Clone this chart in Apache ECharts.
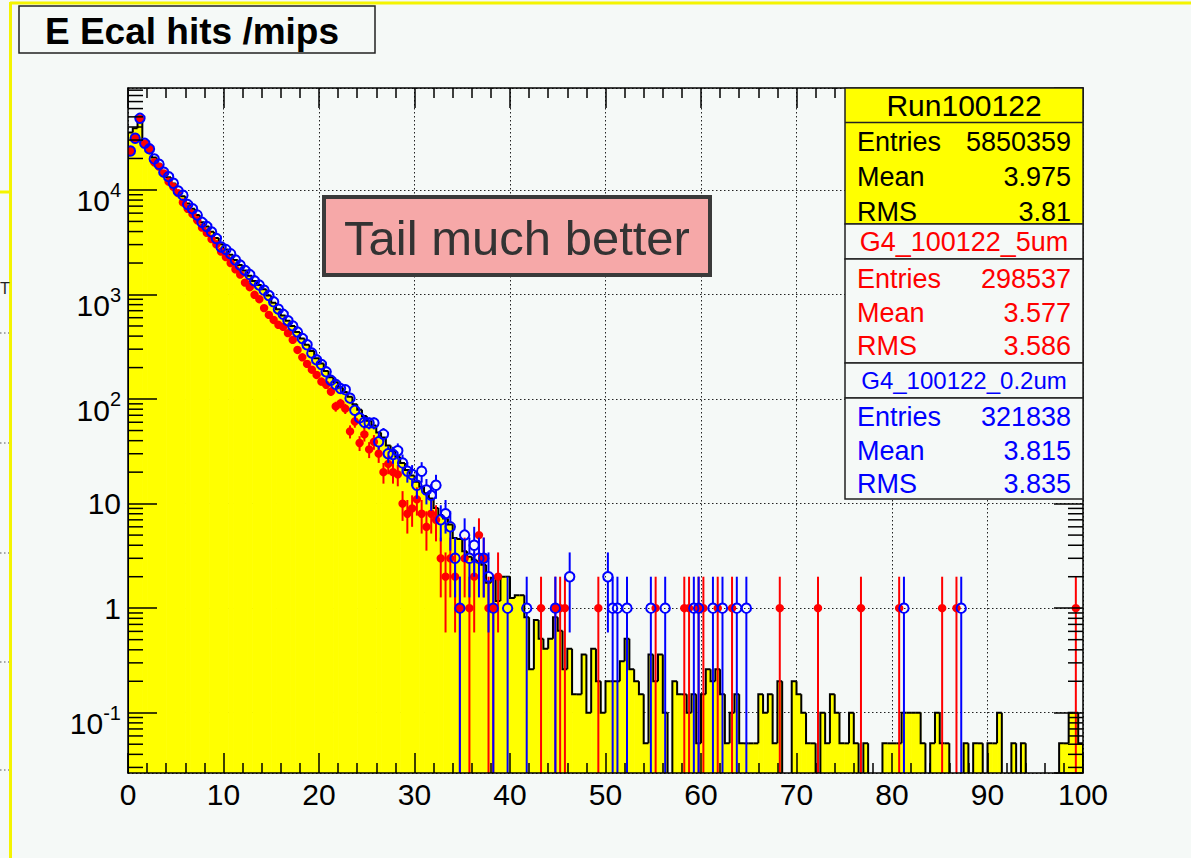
<!DOCTYPE html>
<html>
<head>
<meta charset="utf-8">
<title>E Ecal hits /mips</title>
<script src="https://cdn.jsdelivr.net/npm/echarts@6.0.0/dist/echarts.min.js"></script>
<style>
html, body { margin:0; padding:0; background:#f5f9f7; }
#chart { width:1191px; height:858px; }
</style>
</head>
<body>
<div id="chart"></div>
<script>
// ---------------- data ----------------
const binWidth = 0.5;            // histogram bin width (E / mips)
const xMin = 0, xMax = 100;
const yMin = 0.02653, yMax = 94400;

// Data histogram (Run100122), one value per 0.5-wide bin, 0 .. 100
const dataHist = [
  35500, 38900, 49000, 28800, 24500, 20400, 17800, 15100, 13200, 11500,
  9770, 8710, 7410, 6610, 5750, 4900, 4470, 3980, 3470, 3020,
  2690, 2400, 2140, 1910, 1700, 1510, 1350, 1230, 1120, 977,
  832, 724, 631, 562, 501, 437, 380, 331, 288, 245,
  219, 186, 162, 145, 129, 117, 105, 89, 79, 69,
  62, 56, 48, 43, 36, 32, 28, 24.5, 21, 18.6,
  16.2, 14.5, 12.6, 11.2, 9.1, 7.8, 7.2, 6.3, 4.7, 4.6,
  3.5, 3.1, 2.9, 2.8, 2.6, 1.75, 1.95, 1.17, 2.0, 2.0,
  1.25, 1.33, 1.33, 0.82, 0.26, 0.77, 0.51, 0.41, 0.51, 0.82,
  0.61, 0.26, 0.41, 0.15, 0.15, 0.36, 0.10, 0.41, 0.20, 0.10,
  0.20, 0.20, 0.20, 0.31, 0.51, 0.26, 0.20, 0.15, 0.051, 0.36,
  0.20, 0.36, 0.10, 0, 0.20, 0.15, 0.15, 0.10, 0.15, 0.051,
  0.15, 0.26, 0.20, 0.26, 0.15, 0.051, 0.10, 0.15, 0.051, 0.051,
  0.051, 0.051, 0.15, 0.10, 0.15, 0.051, 0.20, 0, 0, 0.20,
  0.15, 0.10, 0.051, 0.051, 0, 0.10, 0.051, 0.15, 0.10, 0.051,
  0.051, 0.10, 0.051, 0, 0.051, 0, 0, 0, 0.051, 0.051,
  0.051, 0.051, 0.10, 0.10, 0.10, 0.10, 0.051, 0, 0.051, 0.10,
  0.051, 0.051, 0, 0, 0, 0.051, 0, 0.051, 0.051, 0,
  0.051, 0.051, 0.10, 0, 0, 0.051, 0, 0.051, 0, 0,
  0, 0, 0, 0, 0, 0.051, 0.051, 0.10, 0.10, 0.051
];

// G4_100122_5um (red points): contiguous bins 0..77, then isolated tail bins
const g4_5um_head = [
  23600, 31200, 48400, 27900, 24700, 18400, 16700, 14400, 12000, 10700,
  9330, 7590, 6610, 5890, 5130, 4370, 3890, 3390, 3020, 2570,
  2280, 2000, 1740, 1550, 1300, 1175, 993, 902, 741, 638,
  571, 513, 490, 427, 368, 295, 251, 217, 191, 170,
  147, 137, 118, 85, 91, 81, 49, 61, 38, 46,
  33, 39, 30, 20, 24, 20, 19, 10, 8, 9,
  11, 8, 6, 8, 7, 3, 2, 3, 2, 1,
  3, 1, 2, 5, 3, 1, 1, 2
];
const g4_5um_tailBins   = [86, 89, 90, 91, 98, 110, 116, 117, 119, 120, 123, 126, 136, 144, 153, 161, 170, 173, 198];
const g4_5um_tailValues = [1, 1, 1, 1, 1, 1, 1, 1, 1, 1, 1, 1, 1, 1, 1, 1, 1, 1, 1];

// G4_100122_0.2um (blue open circles): contiguous bins 0..76, then isolated tail bins
const g4_02um_head = [
  23600, 31200, 48400, 27900, 24700, 19800, 17600, 14800, 13400, 11600,
  9770, 8910, 7240, 6610, 5750, 4900, 4470, 3970, 3430, 2850,
  2690, 2450, 2140, 1910, 1700, 1550, 1350, 1230, 1100, 977,
  851, 724, 646, 562, 501, 437, 380, 331, 275, 237,
  214, 182, 151, 138, 126, 123, 102, 78, 66, 60,
  59, 59, 39, 46, 30, 29.5, 32, 24.5, 20.4, 19,
  15, 20.4, 13.5, 12, 15, 7, 8, 6, 3, 1,
  5, 3, 4, 3, 3, 2, 1
];
const g4_02um_tailBins   = [79, 83, 89, 92, 100, 101, 102, 104, 109, 112, 118, 119, 122, 124, 127, 129, 162, 174];
const g4_02um_tailValues = [1, 1, 1, 2, 2, 1, 1, 1, 1, 1, 1, 1, 1, 1, 1, 1, 1, 1];

// tick labels
const yTickExponents = [-1, 0, 1, 2, 3, 4];
const yTickLabels = ['{b|10}{s|-1}', '1', '10', '{b|10}{s|2}', '{b|10}{s|3}', '{b|10}{s|4}'];

// texts
const titleText = 'E Ecal hits /mips';
const noteText = 'Tail much better';
const boxTitles = ['Run100122', 'G4_100122_5um', 'G4_100122_0.2um'];
const statsRun   = [['Entries', '5850359'], ['Mean', '3.975'], ['RMS', '3.81']];
const stats5um   = [['Entries', '298537'], ['Mean', '3.577'], ['RMS', '3.586']];
const stats02um  = [['Entries', '321838'], ['Mean', '3.815'], ['RMS', '3.835']];

// ---------------- styling ----------------
const BG = '#f5f9f7';
const YELLOW = '#ffff00';
const RED = '#ff0000';
const BLUE = '#0000ff';
const FONT = '"Liberation Sans", Arial, Helvetica, sans-serif';

// ---------------- build series data ----------------
const histItems = dataHist.map((v, k) => [k * binWidth, (k + 1) * binWidth, v, k]);

function buildPoints(head, tailBins, tailValues) {
  const pts = [];
  head.forEach((v, k) => { if (v != null) pts.push([(k + 0.5) * binWidth, v]); });
  tailBins.forEach((k, i) => pts.push([(k + 0.5) * binWidth, tailValues[i]]));
  return pts;
}
const redPts = buildPoints(g4_5um_head, g4_5um_tailBins, g4_5um_tailValues);
const bluePts = buildPoints(g4_02um_head, g4_02um_tailBins, g4_02um_tailValues);

// minor tick positions of the log axis (2..9 x 10^n)
const yMinorTicks = [];
for (let e = -2; e <= 4; e++) {
  for (let m = 2; m <= 9; m++) {
    const v = m * Math.pow(10, e);
    if (v > yMin && v < yMax) yMinorTicks.push([0, v]);
  }
}

const chart = echarts.init(document.getElementById('chart'), null, { renderer: 'svg', width: 1191, height: 858 });

const tickLine = { color: '#000', width: 1.5 };

function xAxisBase(pos, withLabels, z) {
  return {
    type: 'value', min: xMin, max: xMax, interval: 10, position: pos, z: z,
    axisLine: { show: true, onZero: false, lineStyle: { color: '#000', width: 1.5 } },
    axisTick: { show: true, inside: true, length: 20, lineStyle: tickLine },
    minorTick: { show: true, splitNumber: 5, length: 10, lineStyle: tickLine },
    axisLabel: withLabels ? { show: true, fontSize: 30, color: '#000', fontFamily: FONT, margin: 6 } : { show: false },
    splitLine: { show: false }
  };
}
function yAxisBase(pos, withLabels, z) {
  return {
    type: 'log', logBase: 10, min: yMin, max: yMax, position: pos, z: z,
    axisLine: { show: true, onZero: false, lineStyle: { color: '#000', width: 1.5 } },
    axisTick: { show: true, inside: true, length: 29, lineStyle: tickLine },
    minorTick: { show: false },
    axisLabel: withLabels ? {
      show: true, fontSize: 30, color: '#000', fontFamily: FONT, margin: 7,
      showMinLabel: false, showMaxLabel: false,
      formatter: function (v) {
        const e = Math.round(Math.log10(v));
        const i = yTickExponents.indexOf(e);
        return i >= 0 ? yTickLabels[i] : '';
      },
      rich: {
        b: { fontSize: 30, lineHeight: 36, padding: [14, 0, 0, 0], verticalAlign: 'top', fontFamily: FONT, color: '#000' },
        s: { fontSize: 20, lineHeight: 24, padding: [8, 0, 0, 0], verticalAlign: 'top', fontFamily: FONT, color: '#000' }
      }
    } : { show: false },
    splitLine: { show: false }
  };
}

const gridLineStyle = { color: '#222', width: 1, type: [1.5, 2.5] };

function rowTexts(rows, yStart, dy, color) {
  const out = [];
  rows.forEach((r, i) => {
    out.push({ type: 'text', z: 102, x: 857, y: yStart + i * dy,
      style: { text: r[0], fill: color, font: '27px ' + FONT, textAlign: 'left', textVerticalAlign: 'middle', align: 'left', verticalAlign: 'middle' } });
    out.push({ type: 'text', z: 102, x: 1071, y: yStart + i * dy,
      style: { text: r[1], fill: color, font: '27px ' + FONT, textAlign: 'right', textVerticalAlign: 'middle', align: 'right', verticalAlign: 'middle' } });
  });
  return out;
}
function boxRect(x, y, w, h, fill, lw) {
  return { type: 'rect', z: 100, shape: { x: x, y: y, width: w, height: h }, style: { fill: fill, stroke: '#222', lineWidth: lw || 1.5 } };
}
function centerText(t, x, y, font, color) {
  return { type: 'text', z: 102, x: x, y: y,
    style: { text: t, fill: color, font: font, textAlign: 'center', textVerticalAlign: 'middle', align: 'center', verticalAlign: 'middle' } };
}
function strayDots(y) {
  return { type: 'line', z: 90, shape: { x1: 0, y1: y, x2: 9, y2: y }, style: { stroke: '#555', lineWidth: 1, lineDash: [1.5, 2.5] } };
}

const graphics = [
  // pad border remnants (yellow) and the neighbouring pad strip on the left
  { type: 'line', z: 90, shape: { x1: 10, y1: 3, x2: 1191, y2: 3 }, style: { stroke: '#f4f400', lineWidth: 3 } },
  { type: 'line', z: 90, shape: { x1: 10.5, y1: 2, x2: 10.5, y2: 858 }, style: { stroke: '#f4f400', lineWidth: 3 } },
  { type: 'line', z: 90, shape: { x1: 0, y1: 192, x2: 9, y2: 192 }, style: { stroke: '#f4f400', lineWidth: 3 } },
  { type: 'text', z: 90, x: 0, y: 288, style: { text: 'T', fill: '#222', font: '16px ' + FONT, textVerticalAlign: 'middle', verticalAlign: 'middle' } },
  strayDots(333), strayDots(443), strayDots(553), strayDots(662), strayDots(770),
  // title box
  boxRect(19, 6, 356, 47, BG, 1.5),
  centerText(titleText, 192, 31, 'bold 37px ' + FONT, '#000'),
  // annotation
  { type: 'rect', z: 100, shape: { x: 324, y: 197, width: 386, height: 78 }, style: { fill: '#f6a8a8', stroke: '#3a3a3a', lineWidth: 4 } },
  centerText(noteText, 517, 238, '49px ' + FONT, '#333'),
  // stats box 1 (data)
  boxRect(845, 88, 238, 136, YELLOW),
  { type: 'line', z: 101, shape: { x1: 845, y1: 122.5, x2: 1083, y2: 122.5 }, style: { stroke: '#222', lineWidth: 1.5 } },
  centerText(boxTitles[0], 964, 105, '30px ' + FONT, '#000'),
  ...rowTexts(statsRun, 142, 35, '#000'),
  // stats box 2 (G4 5um)
  boxRect(845, 224, 238, 35, BG),
  centerText(boxTitles[1], 964, 242, '27px ' + FONT, RED),
  boxRect(845, 259, 238, 104, BG),
  ...rowTexts(stats5um, 279, 33.5, RED),
  // stats box 3 (G4 0.2um)
  boxRect(845, 363, 238, 35, BG),
  centerText(boxTitles[2], 964, 380, '24px ' + FONT, BLUE),
  boxRect(845, 398, 238, 101, BG),
  ...rowTexts(stats02um, 417, 33.5, BLUE)
];

const option = {
  backgroundColor: BG,
  animation: false,
  grid: { left: 128, right: 108, top: 88, bottom: 85, containLabel: false, outerBoundsMode: 'none', show: false },
  xAxis: [
    xAxisBase('bottom', true, 5),
    xAxisBase('top', false, 5),
    { type: 'value', min: xMin, max: xMax, interval: 10, position: 'bottom', z: 0,
      axisLine: { show: false }, axisTick: { show: false }, axisLabel: { show: false },
      splitLine: { show: true, lineStyle: gridLineStyle } }
  ],
  yAxis: [
    yAxisBase('left', true, 5),
    yAxisBase('right', false, 5),
    { type: 'log', logBase: 10, min: yMin, max: yMax, position: 'left', z: 0,
      axisLine: { show: false }, axisTick: { show: false }, axisLabel: { show: false },
      splitLine: { show: true, lineStyle: gridLineStyle } }
  ],
  series: [
    { // yellow fill of the data histogram
      type: 'custom', name: 'Run100122 fill', xAxisIndex: 0, yAxisIndex: 0, z: 2, clip: true,
      data: histItems, encode: { x: [0, 1], y: 2 },
      renderItem: function (params, api) {
        const x0 = api.value(0), x1 = api.value(1), v = api.value(2);
        const bot = api.coord([x0, yMin])[1];
        const pL = api.coord([x0, Math.max(v, yMin)]);
        const pR = api.coord([x1, yMin]);
        return { type: 'rect', shape: { x: pL[0], y: pL[1], width: pR[0] - pL[0] + 0.6, height: bot - pL[1] },
          style: { fill: YELLOW } };
      }
    },
    { // black outline of the data histogram
      type: 'custom', name: 'Run100122', xAxisIndex: 0, yAxisIndex: 0, z: 3, clip: true,
      data: histItems, encode: { x: [0, 1], y: 2 },
      renderItem: function (params, api) {
        const x0 = api.value(0), x1 = api.value(1), v = api.value(2), k = api.value(3);
        const prev = k > 0 ? dataHist[k - 1] : 0;
        const bot = api.coord([x0, yMin])[1];
        const yTop = v > 0 ? api.coord([x0, Math.max(v, yMin)])[1] : bot + 3;
        const yPrev = prev > 0 ? api.coord([x0, Math.max(prev, yMin)])[1] : bot + 3;
        const xl = api.coord([x0, yMin])[0], xr = api.coord([x1, yMin])[0];
        const pts = [[xl, yPrev], [xl, yTop], [xr, yTop]];
        if (k === dataHist.length - 1) pts.push([xr, bot + 3]);
        return { type: 'polyline', shape: { points: pts }, style: { stroke: '#000', lineWidth: 2, fill: null } };
      }
    },
    { // y minor ticks (left and right)
      type: 'custom', name: 'minor ticks', xAxisIndex: 0, yAxisIndex: 0, z: 6, silent: true,
      data: yMinorTicks, encode: { x: 0, y: 1 },
      renderItem: function (params, api) {
        const v = api.value(1);
        const pL = api.coord([xMin, v]), pR = api.coord([xMax, v]);
        return { type: 'group', children: [
          { type: 'line', shape: { x1: pL[0], y1: pL[1], x2: pL[0] + 15, y2: pL[1] }, style: { stroke: '#000', lineWidth: 1.5 } },
          { type: 'line', shape: { x1: pR[0] - 15, y1: pR[1], x2: pR[0], y2: pR[1] }, style: { stroke: '#000', lineWidth: 1.5 } }
        ] };
      }
    },
    { // G4 5um: red filled markers with error bars
      type: 'custom', name: 'G4_100122_5um', xAxisIndex: 0, yAxisIndex: 0, z: 4, clip: true,
      data: redPts, encode: { x: 0, y: 1 },
      renderItem: function (params, api) {
        const x = api.value(0), v = api.value(1), err = Math.sqrt(v);
        const p = api.coord([x, v]);
        const bot = api.coord([x, yMin])[1];
        const top = api.coord([x, v + err])[1];
        const low = (v - err) > yMin ? api.coord([x, v - err])[1] : bot + 3;
        return { type: 'group', children: [
          { type: 'line', shape: { x1: p[0], y1: top, x2: p[0], y2: low }, style: { stroke: RED, lineWidth: 2 } },
          { type: 'circle', shape: { cx: p[0], cy: p[1], r: 4.2 }, style: { fill: RED } }
        ] };
      }
    },
    { // G4 0.2um: blue open circles with error bars
      type: 'custom', name: 'G4_100122_0.2um', xAxisIndex: 0, yAxisIndex: 0, z: 5, clip: true,
      data: bluePts, encode: { x: 0, y: 1 },
      renderItem: function (params, api) {
        const x = api.value(0), v = api.value(1), err = Math.sqrt(v);
        const p = api.coord([x, v]);
        const R = 4.7;
        const bot = api.coord([x, yMin])[1];
        const top = api.coord([x, v + err])[1];
        const low = (v - err) > yMin ? api.coord([x, v - err])[1] : bot + 3;
        const ch = [];
        if (p[1] - R > top) ch.push({ type: 'line', shape: { x1: p[0], y1: top, x2: p[0], y2: p[1] - R }, style: { stroke: BLUE, lineWidth: 2 } });
        if (low > p[1] + R) ch.push({ type: 'line', shape: { x1: p[0], y1: p[1] + R, x2: p[0], y2: low }, style: { stroke: BLUE, lineWidth: 2 } });
        ch.push({ type: 'circle', shape: { cx: p[0], cy: p[1], r: R }, style: { fill: null, stroke: BLUE, lineWidth: 2 } });
        return { type: 'group', children: ch };
      }
    }
  ],
  graphic: graphics
};

chart.setOption(option);
</script>
</body>
</html>
